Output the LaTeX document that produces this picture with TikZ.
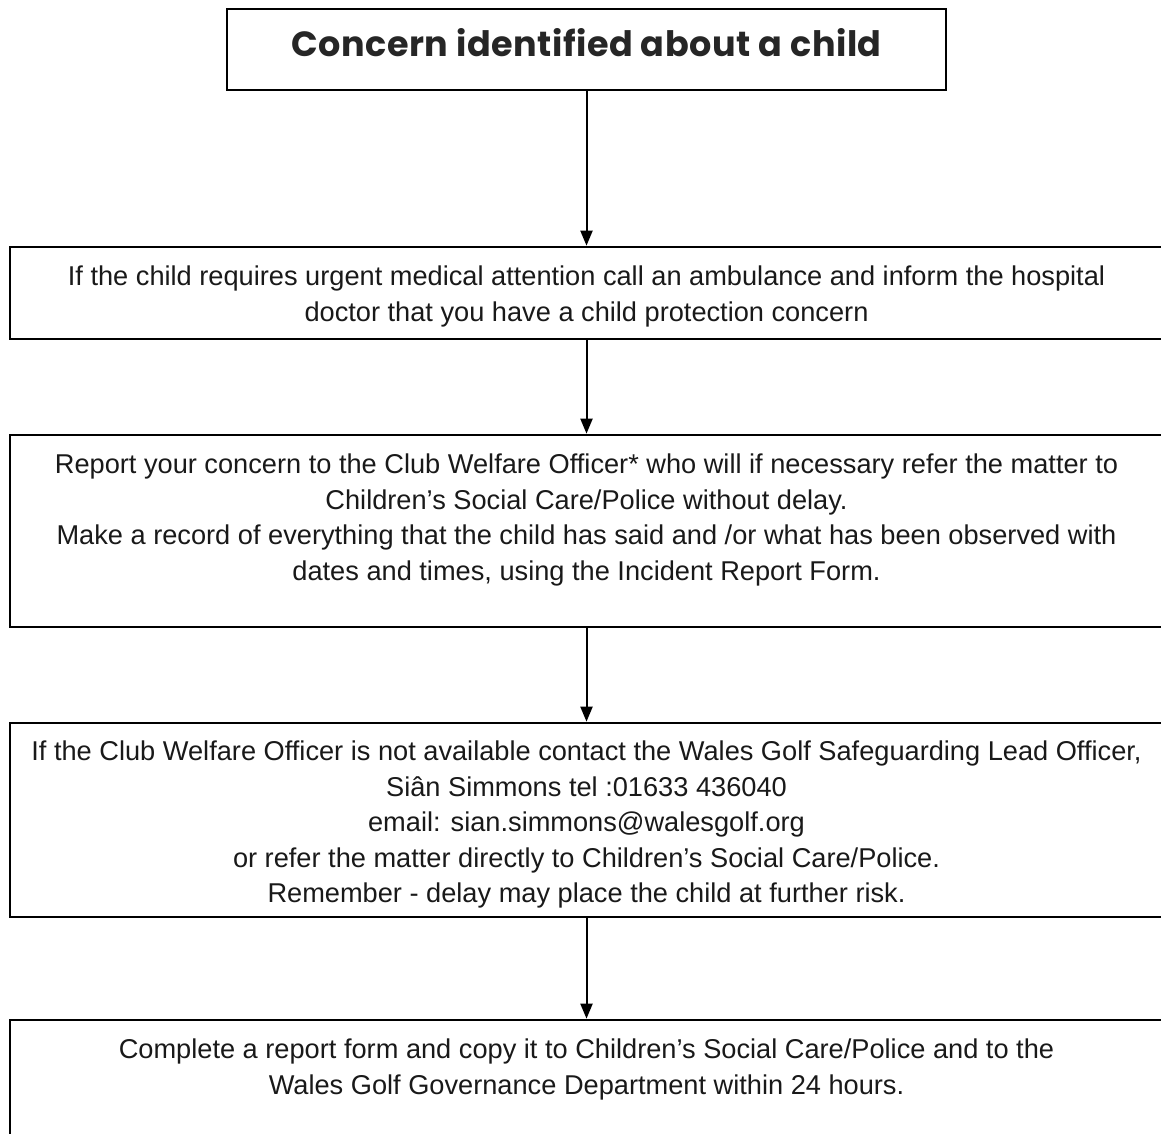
\documentclass[tikz,border=0pt]{standalone}
\usepackage{fontspec}
\setmainfont{Liberation Sans}
\newfontfamily\titlefont[LetterSpace=1.5]{Poppins}
\usetikzlibrary{arrows.meta,positioning}
\tikzset{
  box/.style={draw, line width=2.7pt, minimum width=1153pt, inner sep=0pt},
  txt/.style={align=center, inner sep=0pt, text=black!90,
    font=\fontsize{27.2}{35.5}\selectfont},
  arr/.style={line width=2pt, -{Triangle[length=15pt,width=12pt]}}
}
\begin{document}
\begin{tikzpicture}[x=1pt,y=-1pt]
\useasboundingbox (0,0) rectangle (1161,1133);
% boxes
  \node[box, minimum width=719pt, minimum height=81pt] (b1) at (586.5,49.5) {};
  \node[box, minimum height=92pt]  (b2) at (586.5,293) {};
  \node[box, minimum height=192pt] (b3) at (586.5,531) {};
  \node[box, minimum height=194pt] (b4) at (586.5,820) {};
  \node[box, minimum height=130pt] (b5) at (586.5,1085) {};
% texts
  \node[anchor=base, text=black!85, font=\titlefont\bfseries\fontsize{35}{40}\selectfont] (t1) at (586.5,56) {Concern identified about a child};
  \node[txt, below=20pt of b2.north] (t2) {If the child requires urgent medical attention call an ambulance and inform the hospital\\
    doctor that you have a child protection concern};
  \node[txt, below=20pt of b3.north] (t3) {Report your concern to the Club Welfare Officer* who will if necessary refer the matter to\\
    Children’s Social Care/Police without delay.\\
    Make a record of everything that the child has said and /or what has been observed with\\
    dates and times, using the Incident Report Form.};
  \node[txt, below=19pt of b4.north] (t4) {If the Club Welfare Officer is not available contact the Wales Golf Safeguarding Lead Officer,\\
    Siân Simmons tel :01633 436040\\
    email: sian.simmons@walesgolf.org\\
    or refer the matter directly to Children’s Social Care/Police.\\
    Remember - delay may place the child at further risk.};
  \node[txt, below=20pt of b5.north] (t5) {Complete a report form and copy it to Children’s Social Care/Police and to the\\
    Wales Golf Governance Department within 24 hours.};
% arrows
  \foreach \from/\to in {b1/b2,b2/b3,b3/b4,b4/b5}
    \draw[arr] (\from) -- (\to);
\end{tikzpicture}
\end{document}
